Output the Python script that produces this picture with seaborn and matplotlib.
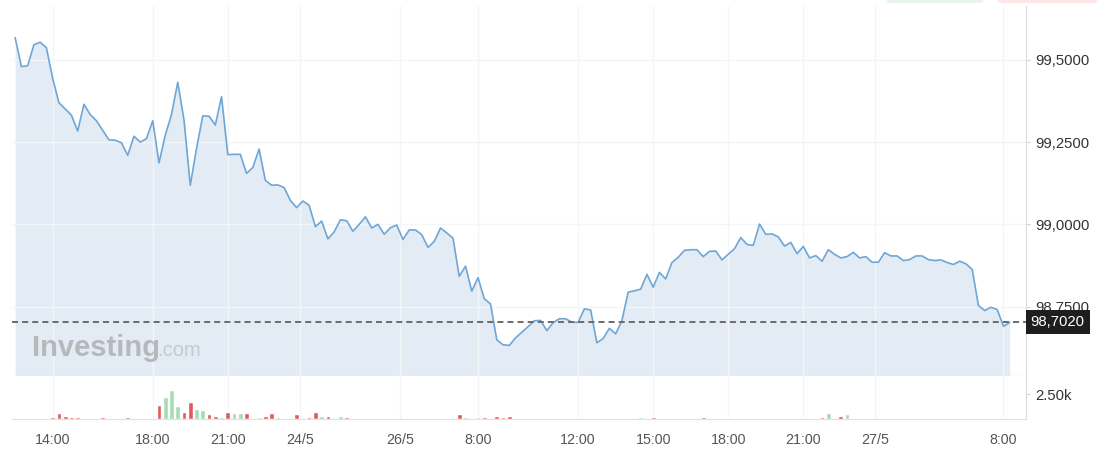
import numpy as np
import pandas as pd
import matplotlib
matplotlib.use('Agg')
import matplotlib.pyplot as plt
import seaborn as sns
from matplotlib.patches import FancyBboxPatch

# 15-minute closes
price = [
    99.568, 99.480, 99.482, 99.546, 99.554, 99.537, 99.444, 99.370, 99.351, 99.332,
    99.284, 99.365, 99.334, 99.315, 99.286, 99.257, 99.256, 99.248, 99.210, 99.268,
    99.250, 99.261, 99.315, 99.187, 99.271, 99.334, 99.432, 99.317, 99.119, 99.231,
    99.330, 99.329, 99.302, 99.388, 99.212, 99.213, 99.213, 99.155, 99.173, 99.229,
    99.134, 99.119, 99.120, 99.112, 99.073, 99.051, 99.071, 99.058, 98.993, 99.010,
    98.956, 98.977, 99.014, 99.011, 98.979, 99.000, 99.023, 98.989, 99.000, 98.970,
    98.990, 98.998, 98.954, 98.983, 98.983, 98.969, 98.930, 98.948, 98.989, 98.974,
    98.958, 98.842, 98.873, 98.797, 98.838, 98.774, 98.758, 98.649, 98.634, 98.632,
    98.655, 98.672, 98.689, 98.707, 98.708, 98.677, 98.701, 98.713, 98.713, 98.703,
    98.702, 98.743, 98.740, 98.640, 98.653, 98.684, 98.667, 98.707, 98.794, 98.798,
    98.803, 98.848, 98.809, 98.854, 98.834, 98.884, 98.900, 98.921, 98.923, 98.923,
    98.902, 98.918, 98.919, 98.892, 98.909, 98.926, 98.960, 98.939, 98.936, 99.001,
    98.970, 98.971, 98.962, 98.934, 98.945, 98.911, 98.933, 98.898, 98.905, 98.888,
    98.923, 98.909, 98.898, 98.902, 98.915, 98.898, 98.902, 98.885, 98.885, 98.914,
    98.904, 98.904, 98.890, 98.893, 98.904, 98.904, 98.893, 98.890, 98.892, 98.884,
    98.878, 98.888, 98.880, 98.863, 98.753, 98.738, 98.748, 98.741, 98.690, 98.702,
]

volume = [
    0, 150, 150, 150, 150, 150, 200, 570, 320, 220,
    220, 150, 150, 150, 200, 150, 150, 150, 200, 0,
    150, 150, 150, 1400, 2200, 2860, 1300, 700, 1700, 960,
    860, 460, 320, 180, 700, 600, 600, 600, 150, 200,
    320, 600, 180, 150, 150, 460, 150, 200, 700, 320,
    320, 150, 320, 180, 150, 150, 0, 150, 150, 150,
    0, 150, 150, 0, 0, 0, 150, 0, 0, 0,
    150, 460, 200, 150, 200, 200, 150, 320, 200, 320,
    150, 150, 150, 150, 150, 150, 150, 150, 150, 150,
    150, 0, 150, 150, 150, 150, 150, 150, 150, 150,
    200, 150, 220, 150, 150, 150, 0, 150, 150, 0,
    200, 150, 0, 0, 150, 0, 150, 150, 150, 150,
    150, 150, 150, 0, 150, 150, 150, 150, 150, 200,
    600, 150, 320, 460, 0, 0, 0, 0, 0, 0,
    150, 0, 0, 0, 0, 0, 0, 0, 0, 0,
    0, 0, 0, 0, 150, 150, 0, 150, 150, 0,
]

tick_pos = [6, 22, 34, 45.5, 61.5, 74, 90, 102, 114, 126, 137.5, 158]
tick_labels = ['14:00', '18:00', '21:00', '24/5', '26/5', '8:00',
               '12:00', '15:00', '18:00', '21:00', '27/5', '8:00']
price_ticks = [98.75, 99.0, 99.25, 99.5]

df = pd.DataFrame({'i': np.arange(len(price)), 'price': price, 'volume': volume})
df['dir'] = np.where(df['price'].diff().fillna(0) >= 0, 'up', 'down')
last = price[-1]

sns.set_style('white')
plt.rcParams['font.family'] = ['Liberation Sans', 'DejaVu Sans']

W, H = 1105, 471
fig = plt.figure(figsize=(W / 100, H / 100), dpi=100)
ax = fig.add_axes([12 / W, 95 / H, 1014 / W, 370 / H])
axv = fig.add_axes([12 / W, 52 / H, 1014 / W, 43 / H])

y_lo, y_hi = 98.539, 99.664
x_lo, x_hi = -0.5, 161.6
grid_c = '#f4f5f7'

# price area
ax.fill_between(df['i'], df['price'], y_lo, color='#e3ecf4', lw=0)
sns.lineplot(data=df, x='i', y='price', ax=ax, color='#6ea6d6', lw=1.2)
ax.axhline(last, color='#6b6b6b', lw=1.4, ls=(0, (3.1, 2.1)))

ax.set_xlim(x_lo, x_hi)
ax.set_ylim(y_lo, y_hi)
ax.set_xlabel('')
ax.set_ylabel('')
ax.set_axisbelow('line')
ax.grid(True, color=grid_c, lw=1)
ax.set_xticks(tick_pos)
ax.set_xticklabels([])
ax.tick_params(axis='x', length=0)
ax.yaxis.tick_right()
ax.set_yticks(price_ticks)
ax.set_yticklabels([f'{v:.4f}'.replace('.', ',') for v in price_ticks])
ax.tick_params(axis='y', length=3, color='#cfd5dc', pad=4, labelsize=10.7, labelcolor='#333333')
for s in ['top', 'left']:
    ax.spines[s].set_visible(False)
ax.spines['bottom'].set_color('#c8c8c8')
ax.spines['right'].set_color('#d6dce4')

ax.annotate(f'{last:.4f}'.replace('.', ','), xy=(1, last), xycoords=ax.get_yaxis_transform(),
            xytext=(3.3, 0), textcoords='offset points', ha='left', va='center',
            color='white', fontsize=10.7,
            bbox=dict(boxstyle='square,pad=0.34', fc='#1e1e1e', ec='none'))

# volume bars
sns.barplot(data=df, x='i', y='volume', hue='dir', palette={'up': '#a6dbb3', 'down': '#e05a5a'},
            native_scale=True, dodge=False, width=0.75, errorbar=None, legend=False,
            saturation=1, ax=axv)
axv.set_xlim(x_lo, x_hi)
axv.set_ylim(0, 4300)
axv.set_xlabel('')
axv.set_ylabel('')
axv.set_axisbelow(True)
axv.grid(True, axis='x', color=grid_c, lw=1)
axv.set_xticks(tick_pos)
axv.set_xticklabels(tick_labels)
axv.tick_params(axis='x', length=6, color='#d3d9e0', pad=4, labelsize=10.3, labelcolor='#555555')
axv.yaxis.tick_right()
axv.set_yticks([2500])
axv.set_yticklabels(['2.50k'])
axv.tick_params(axis='y', length=3, color='#cfd5dc', pad=4, labelsize=10.7, labelcolor='#333333')
for s in ['top', 'left']:
    axv.spines[s].set_visible(False)
axv.spines['bottom'].set_color('#dde2e8')
axv.spines['right'].set_color('#d6dce4')

# watermark
fig.text(32 / W, (H - 356) / H, 'Investing', fontsize=21, fontweight='bold', color='#b5b9bc', va='baseline')
fig.text(157 / W, (H - 356) / H, '.com', fontsize=14.5, color='#c6cacd', va='baseline')

# faint buttons cut off at the top edge
for x0, w, c in [(887, 96, '#e8f5ea'), (998, 99, '#fce6e6')]:
    fig.patches.append(FancyBboxPatch((x0 / W, (H - 3) / H), w / W, 6 / H,
                                      boxstyle='round,pad=0,rounding_size=0.004',
                                      transform=fig.transFigure, fc=c, ec='none'))

fig.savefig('out.png', dpi=100)
